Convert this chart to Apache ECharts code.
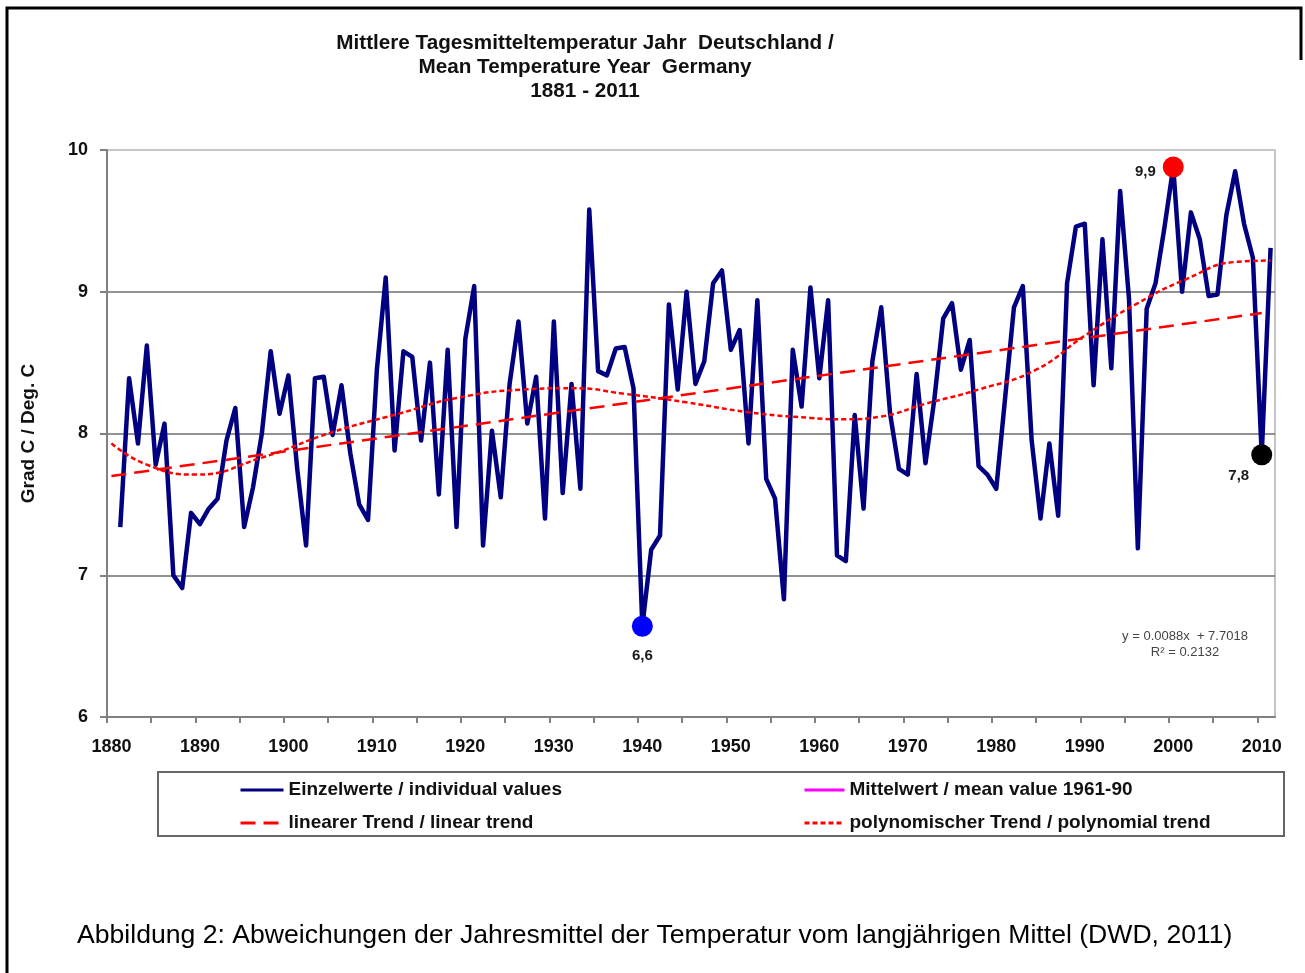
<!DOCTYPE html>
<html>
<head>
<meta charset="utf-8">
<script src="https://cdn.jsdelivr.net/npm/echarts@6/dist/echarts.min.js"></script>
<style>
html, body { margin: 0; padding: 0; background: #fff; }
#main { width: 1305px; height: 973px; }
</style>
</head>
<body>
<div id="main"></div>
<script>
var chart = echarts.init(document.getElementById('main'));

// Jahresmittel 1881 - 2011
var years = [];
for (var y = 1881; y <= 2011; y++) years.push(y);
var temps = [
  7.34, 8.39, 7.93, 8.62, 7.78, 8.07, 7.00, 6.91, 7.44, 7.36,   // 1881-1890
  7.47, 7.54, 7.95, 8.18, 7.34, 7.62, 8.00, 8.58, 8.14, 8.41,   // 1891-1900
  7.75, 7.21, 8.39, 8.40, 7.99, 8.34, 7.86, 7.50, 7.39, 8.45,   // 1901-1910
  9.10, 7.88, 8.58, 8.54, 7.95, 8.50, 7.57, 8.59, 7.34, 8.67,   // 1911-1920
  9.04, 7.21, 8.02, 7.55, 8.35, 8.79, 8.07, 8.40, 7.40, 8.79,   // 1921-1930
  7.58, 8.35, 7.61, 9.58, 8.44, 8.41, 8.60, 8.61, 8.32, 6.64,   // 1931-1940
  7.18, 7.28, 8.91, 8.31, 9.00, 8.35, 8.51, 9.06, 9.15, 8.59,   // 1941-1950
  8.73, 7.93, 8.94, 7.68, 7.54, 6.83, 8.59, 8.19, 9.03, 8.39,   // 1951-1960
  8.94, 7.14, 7.10, 8.13, 7.47, 8.51, 8.89, 8.14, 7.75, 7.71,   // 1961-1970
  8.42, 7.79, 8.24, 8.81, 8.92, 8.45, 8.66, 7.77, 7.71, 7.61,   // 1971-1980
  8.25, 8.89, 9.04, 7.95, 7.40, 7.93, 7.42, 9.06, 9.46, 9.48,   // 1981-1990
  8.34, 9.37, 8.46, 9.71, 8.95, 7.19, 8.88, 9.06, 9.45, 9.88,   // 1991-2000
  9.00, 9.56, 9.37, 8.97, 8.98, 9.54, 9.85, 9.48, 9.24, 7.85,   // 2001-2010
  9.31                                                          // 2011
];

// linearer Trend (Endpunkte)
var linYears = [1880, 2010];
var linValues = [7.70, 8.85];

var polyYears = [1880, 1884, 1889.5, 1897, 1905, 1912.5, 1919, 1926.5, 1932, 1938, 1945, 1952,
                 1959, 1963, 1967, 1972, 1978, 1984.5, 1990, 1996, 2001.5, 2007, 2011];
var polyValues = [7.93, 7.78, 7.71, 7.83, 8.01, 8.14, 8.25, 8.31, 8.32, 8.28, 8.22, 8.15,
                  8.11, 8.10, 8.12, 8.21, 8.31, 8.45, 8.69, 8.92, 9.09, 9.21, 9.22];

// markierte Jahre
var markYears = [2000, 1940, 2010];
var markValues = [9.88, 6.64, 7.85];
var markLabels = ['9,9', '6,6', '7,8'];
var markColors = ['#ff0000', '#0000ff', '#000000'];

var xTicks = [];
for (var t = 1879.5; t <= 2010; t += 5) xTicks.push(t);
var xLabels = [1880, 1890, 1900, 1910, 1920, 1930, 1940, 1950, 1960, 1970, 1980, 1990, 2000, 2010];

var font = "'Liberation Sans', Arial, sans-serif";

function pairs(xs, vs) {
  return xs.map(function (x, i) { return [x, vs[i]]; });
}

var markPos = [
  { position: 'left', offset: [-2, 5] },
  { position: 'bottom', distance: 12 },
  { position: 'inside', offset: [-23, 21] }
];

var markData = markYears.map(function (yr, i) {
  return {
    value: [yr, markValues[i]],
    itemStyle: { color: markColors[i], opacity: 1 },
    label: Object.assign({
      show: true,
      formatter: markLabels[i],
      color: '#1a1a1a',
      opacity: 1,
      fontWeight: 'bold',
      fontSize: 15,
      fontFamily: font
    }, markPos[i])
  };
});

var legendText = { fontFamily: font, fontSize: 19, fontWeight: 'bold', color: '#111', lineHeight: 20 };

option = {
  animation: false,
  backgroundColor: '#fff',
  title: {
    text: 'Mittlere Tagesmitteltemperatur Jahr  Deutschland /\nMean Temperature Year  Germany\n1881 - 2011',
    left: 580,
    top: 26,
    textAlign: 'center',
    textStyle: { fontFamily: font, fontSize: 20.7, fontWeight: 'bold', color: '#111', lineHeight: 24 }
  },
  grid: {
    left: 107, top: 150, width: 1168, height: 567,
    show: true, borderColor: '#b0b0b0', borderWidth: 1.5, backgroundColor: 'transparent'
  },
  legend: [
    {
      data: ['Einzelwerte / individual values', 'linearer Trend / linear trend'],
      orient: 'vertical', left: 234, top: 775, itemWidth: 43, itemHeight: 14, itemGap: 13,
      itemStyle: { opacity: 0 },
      lineStyle: { width: 3 },
      textStyle: legendText
    },
    {
      data: ['Mittelwert / mean value 1961-90', 'polynomischer Trend / polynomial trend'],
      orient: 'vertical', left: 798, top: 775, itemWidth: 40, itemHeight: 14, itemGap: 13,
      itemStyle: { opacity: 0 },
      lineStyle: { width: 3 },
      textStyle: legendText
    }
  ],
  xAxis: {
    type: 'value',
    min: 1879.5,
    max: 2011.5,
    axisLine: { show: true, lineStyle: { color: '#808080', width: 2 } },
    axisTick: { show: true, customValues: xTicks, length: 6, inside: false, lineStyle: { color: '#808080', width: 2 } },
    axisLabel: {
      customValues: xLabels, margin: 21,
      fontFamily: font, fontSize: 18, fontWeight: 'bold', color: '#111',
      formatter: function (v) { return String(Math.round(v)); }
    },
    splitLine: { show: false }
  },
  yAxis: {
    type: 'value',
    min: 6, max: 10, interval: 1,
    name: 'Grad C / Deg. C',
    nameLocation: 'middle',
    nameRotate: 90,
    nameGap: 69,
    nameTextStyle: { fontFamily: font, fontSize: 19, fontWeight: 'bold', color: '#111' },
    axisLine: { show: true, lineStyle: { color: '#808080', width: 2 } },
    axisTick: { show: true, length: 7, lineStyle: { color: '#808080', width: 2 } },
    axisLabel: { margin: 19, fontFamily: font, fontSize: 18, fontWeight: 'bold', color: '#111' },
    splitLine: { show: true, lineStyle: { color: ['#808080', '#6e6e6e', '#6e6e6e', '#6e6e6e', '#c8c8c8'], width: 1.5 } }
  },
  series: [
    {
      name: 'Einzelwerte / individual values',
      type: 'line',
      data: pairs(years, temps),
      symbol: 'none',
      color: '#000080',
      lineStyle: { color: '#000080', width: 4.5, join: 'round' },
      z: 2
    },
    {
      name: 'Mittelwert / mean value 1961-90',
      type: 'line',
      data: [],
      symbol: 'none',
      color: '#ff00ff',
      lineStyle: { color: '#ff00ff', width: 2.5 }
    },
    {
      name: 'linearer Trend / linear trend',
      type: 'line',
      data: pairs(linYears, linValues),
      symbol: 'none',
      color: '#ff0000',
      lineStyle: { color: '#ff0000', width: 2.5, type: [15, 8] },
      z: 3
    },
    {
      name: 'polynomischer Trend / polynomial trend',
      type: 'line',
      data: pairs(polyYears, polyValues),
      smooth: 0.5,
      symbol: 'none',
      color: '#ff0000',
      lineStyle: { color: '#ff0000', width: 2.5, type: [5, 3] },
      z: 3
    },
    {
      name: 'Markierung',
      type: 'scatter',
      data: markData,
      symbol: 'circle',
      symbolSize: 21,
      z: 4
    }
  ],
  graphic: [
    {
      type: 'polyline',
      shape: { points: [[1301, 60], [1301, 8], [7, 8], [7, 973]] },
      style: { stroke: '#000', lineWidth: 3, fill: null },
      silent: true
    },
    {
      type: 'rect',
      shape: { x: 158, y: 772, width: 1126, height: 64 },
      style: { stroke: '#666', lineWidth: 2, fill: null },
      silent: true
    },
    {
      type: 'text',
      x: 1185, y: 636,
      style: { text: 'y = 0.0088x  + 7.7018', fontFamily: font, fontSize: 13, fill: '#444', align: 'center', verticalAlign: 'middle' }
    },
    {
      type: 'text',
      x: 1185, y: 652,
      style: { text: 'R\u00b2 = 0.2132', fontFamily: font, fontSize: 13, fill: '#444', align: 'center', verticalAlign: 'middle' }
    },
    {
      type: 'text',
      x: 77, y: 936,
      style: { text: 'Abbildung 2: Abweichungen der Jahresmittel der Temperatur vom langjährigen Mittel (DWD, 2011)', fontFamily: font, fontSize: 26.6, fill: '#000', align: 'left', verticalAlign: 'middle' }
    }
  ]
};

chart.setOption(option);
</script>
</body>
</html>
